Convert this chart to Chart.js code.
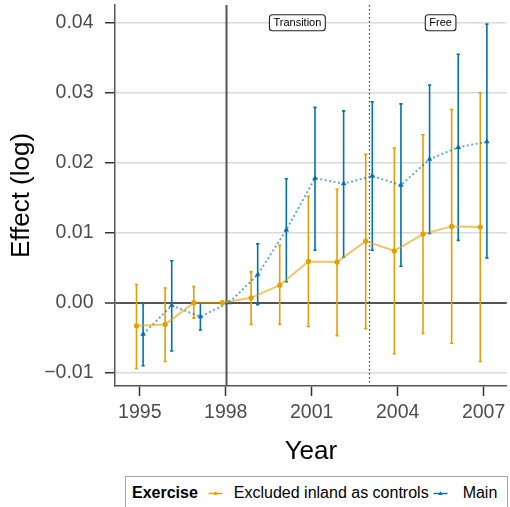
<!DOCTYPE html>
<html>
<head>
<meta charset="utf-8">
<title>Effect (log) by year</title>
<script src="https://cdn.jsdelivr.net/npm/chart.js@4/dist/chart.umd.min.js"></script>
<style>
  html, body { margin: 0; padding: 0; background: #fff; }
  #wrap { position: relative; width: 510px; height: 507px; overflow: hidden;
          font-family: "Liberation Sans", Arial, Helvetica, sans-serif; }
  #chart { position: absolute; left: 0; top: 0; }
  #legend { position: absolute; left: 125px; top: 476px; width: 383px; height: 40px;
            box-sizing: border-box; border: 1px solid #a6a6a6; background: #fff;
            display: flex; align-items: flex-start; padding: 5px 0 0 6px;
            font-size: 16px; line-height: 22px; color: #000; white-space: nowrap; }
  #legend .title { font-weight: bold; margin-right: 9px; }
  #legend svg { display: block; flex: none; }
  #legend .key0 { margin-right: 10px; }
  #legend .key1 { margin-left: 3px; margin-right: 14px; }
</style>
</head>
<body>
<div id="wrap">
  <canvas id="chart" width="510" height="507"></canvas>
  <div id="legend"></div>
</div>
<script>
// Years and event-study estimates with 95% confidence bounds
const years = [1995, 1996, 1997, 1998, 1999, 2000, 2001, 2002, 2003, 2004, 2005, 2006, 2007];

const excludedEst  = [-0.0033, -0.0031, 0.0000, 0, 0.0007, 0.0025, 0.0059, 0.0058, 0.0088, 0.0074, 0.0098, 0.0109, 0.0108];
const excludedLow  = [-0.0094, -0.0084, -0.0022, 0, -0.0031, -0.0031, -0.0034, -0.0047, -0.0037, -0.0073, -0.0044, -0.0058, -0.0084];
const excludedHigh = [0.0026, 0.0021, 0.0023, 0, 0.0044, 0.0082, 0.0152, 0.0162, 0.0212, 0.0221, 0.0240, 0.0276, 0.0300];

const mainEst  = [-0.0045, -0.0004, -0.0020, 0, 0.0040, 0.0104, 0.0178, 0.0170, 0.0181, 0.0168, 0.0205, 0.0222, 0.0230];
const mainLow  = [-0.0090, -0.0069, -0.0039, 0, -0.0003, 0.0030, 0.0075, 0.0065, 0.0075, 0.0052, 0.0099, 0.0089, 0.0064];
const mainHigh = [-0.0001, 0.0060, 0.0000, 0, 0.0084, 0.0177, 0.0279, 0.0274, 0.0287, 0.0284, 0.0311, 0.0355, 0.0398];

const seriesNames = ['Excluded inland as controls', 'Main'];
const legendTitle = 'Exercise';

const xTicks = [1995, 1998, 2001, 2004, 2007];
const yTicks = [-0.01, 0.00, 0.01, 0.02, 0.03, 0.04];

// Policy periods: reform year (solid line), liberalisation year (dotted line), and period tags
const reformYear = 1998;
const freeYear = 2003;
const periodNames = ['Transition', 'Free'];
const periodTagYears = [2000.5, 2005.5];
const periodTagValue = 0.04;

// Styling
const ORANGE = '#E69F00';
const BLUE = '#0072B2';
const DODGE = 0.115;          // horizontal offset between the two series
const AXIS_GREY = '#555555';
const TICK_GREY = '#4D4D4D';
const FONT = '"Liberation Sans", Arial, Helvetica, sans-serif';

function makeSeries(name, est, low, high, shift, color, lineColor, dash, pointStyle, radius) {
  return {
    label: name,
    data: years.map((yr, i) => ({ x: yr + shift, y: est[i] })),
    low, high,
    barColor: color,
    borderColor: lineColor,
    borderWidth: 2,
    borderDash: dash,
    backgroundColor: color,
    pointBackgroundColor: color,
    pointBorderColor: color,
    pointBorderWidth: 0,
    pointStyle: pointStyle,
    pointRadius: radius,
    pointHoverRadius: radius,
    tension: 0,
    fill: false
  };
}

const datasets = [
  makeSeries(seriesNames[0], excludedEst, excludedLow, excludedHigh, -DODGE,
             ORANGE, 'rgba(230,159,0,0.6)', [], 'circle', 2.6),
  makeSeries(seriesNames[1], mainEst, mainLow, mainHigh, DODGE,
             BLUE, 'rgba(0,114,178,0.6)', [2, 2.5], 'triangle', 3.2)
];

// Reference lines for the reform and liberalisation years
const refLines = {
  id: 'refLines',
  beforeDatasetsDraw(chart) {
    const { ctx, chartArea: a, scales: { x } } = chart;
    ctx.save();
    let px = Math.round(x.getPixelForValue(reformYear)) + 0.5;
    ctx.strokeStyle = AXIS_GREY; ctx.lineWidth = 2;
    ctx.beginPath(); ctx.moveTo(px, a.top); ctx.lineTo(px, a.bottom); ctx.stroke();
    px = Math.round(x.getPixelForValue(freeYear)) + 0.5;
    ctx.strokeStyle = '#444'; ctx.lineWidth = 1.3; ctx.setLineDash([1.4, 2.6]);
    ctx.beginPath(); ctx.moveTo(px, a.top); ctx.lineTo(px, a.bottom); ctx.stroke();
    ctx.restore();
  }
};

// Confidence-interval whiskers with small caps
const errorBars = {
  id: 'errorBars',
  beforeDatasetsDraw(chart) {
    const { ctx, scales: { x, y } } = chart;
    chart.data.datasets.forEach(ds => {
      ctx.save();
      ctx.strokeStyle = ds.barColor;
      ctx.lineWidth = 1.6;
      ds.data.forEach((p, i) => {
        const lo = ds.low[i], hi = ds.high[i];
        if (lo === hi) return;
        const px = x.getPixelForValue(p.x);
        const y1 = y.getPixelForValue(lo), y2 = y.getPixelForValue(hi);
        ctx.beginPath();
        ctx.moveTo(px, y1); ctx.lineTo(px, y2);
        ctx.moveTo(px - 1.6, y1); ctx.lineTo(px + 1.6, y1);
        ctx.moveTo(px - 1.6, y2); ctx.lineTo(px + 1.6, y2);
        ctx.stroke();
      });
      ctx.restore();
    });
  }
};

// Boxed period tags at the top of the panel
const periodTags = {
  id: 'periodTags',
  afterDatasetsDraw(chart) {
    const { ctx, scales: { x, y } } = chart;
    ctx.save();
    ctx.font = '11px ' + FONT;
    ctx.textAlign = 'center';
    ctx.textBaseline = 'middle';
    periodNames.forEach((name, i) => {
      const cx = x.getPixelForValue(periodTagYears[i]);
      const cy = y.getPixelForValue(periodTagValue);
      const w = ctx.measureText(name).width + 8;
      const h = 16;
      ctx.beginPath();
      ctx.roundRect(cx - w / 2, cy - h / 2, w, h, 3);
      ctx.fillStyle = '#fff';
      ctx.fill();
      ctx.strokeStyle = '#222';
      ctx.lineWidth = 1.1;
      ctx.stroke();
      ctx.fillStyle = '#000';
      ctx.fillText(name, cx, cy + 0.5);
    });
    ctx.restore();
  }
};

const fmtY = v => {
  const s = Math.abs(v) < 1e-9 ? '0.00' : v.toFixed(2);
  return s.replace('-', '\u2212');
};

const chart = new Chart(document.getElementById('chart'), {
  type: 'line',
  data: { datasets },
  plugins: [refLines, errorBars, periodTags],
  options: {
    responsive: false,
    animation: false,
    devicePixelRatio: 1,
    layout: { padding: { top: 5, right: 0, left: 0, bottom: 36 } },
    plugins: { legend: { display: false }, tooltip: { enabled: false } },
    scales: {
      x: {
        type: 'linear',
        min: 1994.135,
        max: 2007.81,
        afterBuildTicks: s => { s.ticks = xTicks.map(v => ({ value: v })); },
        afterFit: s => { s.height = 85; s.paddingLeft = 0; s.paddingRight = 0; },
        ticks: {
          color: TICK_GREY,
          font: { family: FONT, size: 19.5 },
          padding: 5,
          maxRotation: 0,
          autoSkip: false,
          callback: v => String(v)
        },
        grid: {
          drawOnChartArea: false,
          drawTicks: true,
          tickLength: 10,
          tickColor: '#333',
          tickWidth: 1.5
        },
        border: { display: true, color: AXIS_GREY, width: 1.5 },
        title: {
          display: true,
          text: 'Year',
          color: '#000',
          font: { family: FONT, size: 26 },
          padding: { top: 0, bottom: 3.4 }
        }
      },
      y: {
        type: 'linear',
        min: -0.0119,
        max: 0.04253,
        afterBuildTicks: s => { s.ticks = yTicks.map(v => ({ value: v })); },
        afterFit: s => { s.width = 115; s.paddingTop = 0; s.paddingBottom = 0; },
        ticks: {
          color: TICK_GREY,
          font: { family: FONT, size: 19.5 },
          padding: 11.5,
          autoSkip: false,
          callback: v => fmtY(v)
        },
        grid: {
          drawOnChartArea: true,
          color: c => (c.tick && Math.abs(c.tick.value) < 1e-9) ? AXIS_GREY : '#dadada',
          lineWidth: c => (c.tick && Math.abs(c.tick.value) < 1e-9) ? 2 : 1.5,
          tickLength: 10,
          tickColor: '#333',
          tickWidth: 1.5
        },
        border: { display: true, color: AXIS_GREY, width: 1.5 },
        title: {
          display: true,
          text: 'Effect (log)',
          color: '#000',
          font: { family: FONT, size: 26 },
          padding: { top: 6.4, bottom: 0 }
        }
      }
    }
  }
});

// Legend built from the dataset names and styles
(function buildLegend() {
  const box = document.getElementById('legend');
  const title = document.createElement('span');
  title.className = 'title';
  title.textContent = legendTitle;
  box.appendChild(title);
  const keys = [
    { color: ORANGE, shape: 'circle' },
    { color: BLUE, shape: 'triangle' }
  ];
  chart.data.datasets.forEach((ds, i) => {
    const k = keys[i];
    const svgNS = 'http://www.w3.org/2000/svg';
    const svg = document.createElementNS(svgNS, 'svg');
    svg.setAttribute('width', '17');
    svg.setAttribute('height', '22');
    svg.setAttribute('class', 'key' + i);
    const line = document.createElementNS(svgNS, 'line');
    line.setAttribute('x1', '1.5'); line.setAttribute('x2', '15.5');
    line.setAttribute('y1', '11.5'); line.setAttribute('y2', '11.5');
    line.setAttribute('stroke', k.color); line.setAttribute('stroke-width', '1.4');
    svg.appendChild(line);
    let mark;
    if (k.shape === 'circle') {
      mark = document.createElementNS(svgNS, 'circle');
      mark.setAttribute('cx', '8.5'); mark.setAttribute('cy', '11.5'); mark.setAttribute('r', '1.8');
    } else {
      mark = document.createElementNS(svgNS, 'polygon');
      mark.setAttribute('points', '8.5,9.3 10.6,12.9 6.4,12.9');
    }
    mark.setAttribute('fill', k.color);
    svg.appendChild(mark);
    box.appendChild(svg);
    const label = document.createElement('span');
    label.textContent = ds.label;
    box.appendChild(label);
  });
})();
</script>
</body>
</html>
